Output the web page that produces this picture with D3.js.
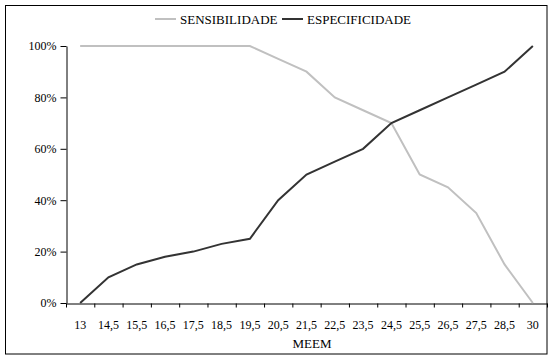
<!DOCTYPE html>
<html><head><meta charset="utf-8">
<script src="https://cdn.jsdelivr.net/npm/d3@7"></script>
<style>body{margin:0;background:#fff}text{font-family:"Liberation Serif","Times New Roman",serif;font-size:12px;fill:#000}</style>
</head><body><svg id="c" width="553" height="360"></svg>
<script>
const categories = ["13","14,5","15,5","16,5","17,5","18,5","19,5","20,5","21,5","22,5","23,5","24,5","25,5","26,5","27,5","28,5","30"];
const sensibilidade = [100,100,100,100,100,100,100,95,90,80,75,70,50,45,35,15,0];
const especificidade = [0,10,15,18,20,23,25,40,50,55,60,70,75,80,85,90,100];
const yTicks = [0,20,40,60,80,100];
const seriesNames = ["SENSIBILIDADE","ESPECIFICIDADE"];
const colors = ["#c0c0c0","#333333"];

const svg = d3.select("#c");
const L=66,R=547,T=46,B=303;
svg.append("rect").attr("x",5.5).attr("y",5.5).attr("width",541.5).attr("height",348.5).attr("fill","none").attr("stroke","#000").attr("stroke-width",1);

const x = d3.scaleBand().domain(categories).range([L,R]).padding(0);
const y = d3.scaleLinear().domain([0,100]).range([B,T]);

// Y axis
const ya = svg.append("g").attr("transform",`translate(${L+0.5},0)`)
  .call(d3.axisLeft(y).tickValues(yTicks).tickFormat(d=>d+"%").tickSize(6).tickSizeOuter(0).tickPadding(4));
ya.select(".domain").attr("stroke","#000");
ya.selectAll(".tick line").attr("stroke","#000");
ya.selectAll("text").attr("font-family",null).attr("font-size",null).attr("fill","#000");

// X axis: ticks at band boundaries
const bounds = d3.scaleLinear().domain([0,categories.length]).range([L,R]);
const xb = svg.append("g").attr("transform",`translate(0,${B+0.5})`)
  .call(d3.axisBottom(bounds).tickValues(d3.range(categories.length+1)).tickFormat("").tickSize(4).tickSizeOuter(0));
xb.select(".domain").attr("stroke","#000");
xb.selectAll(".tick line").attr("stroke","#000");
const xl = svg.append("g").attr("transform",`translate(0,${B})`)
  .call(d3.axisBottom(x).tickSize(0).tickPadding(17));
xl.select(".domain").remove();
xl.selectAll("text").attr("font-family",null).attr("font-size",null).attr("fill","#000");

svg.append("text").attr("x",312).attr("y",348).attr("text-anchor","middle").style("font-size","13px").text("MEEM");

const line = d3.line().x((d,i)=>x(categories[i])+x.bandwidth()/2).y(d=>y(d));
[sensibilidade, especificidade].forEach((s,k)=>{
  svg.append("path").datum(s).attr("d",line).attr("fill","none").attr("stroke",colors[k]).attr("stroke-width",2);
});

// Legend
const lg = [{x:155,name:seriesNames[0],c:colors[0]},{x:282,name:seriesNames[1],c:colors[1]}];
lg.forEach(l=>{
  svg.append("line").attr("x1",l.x).attr("x2",l.x+21).attr("y1",19).attr("y2",19).attr("stroke",l.c).attr("stroke-width",2);
  svg.append("text").attr("x",l.x+25).attr("y",23.5).style("font-size","13px").text(l.name);
});
</script></body></html>
